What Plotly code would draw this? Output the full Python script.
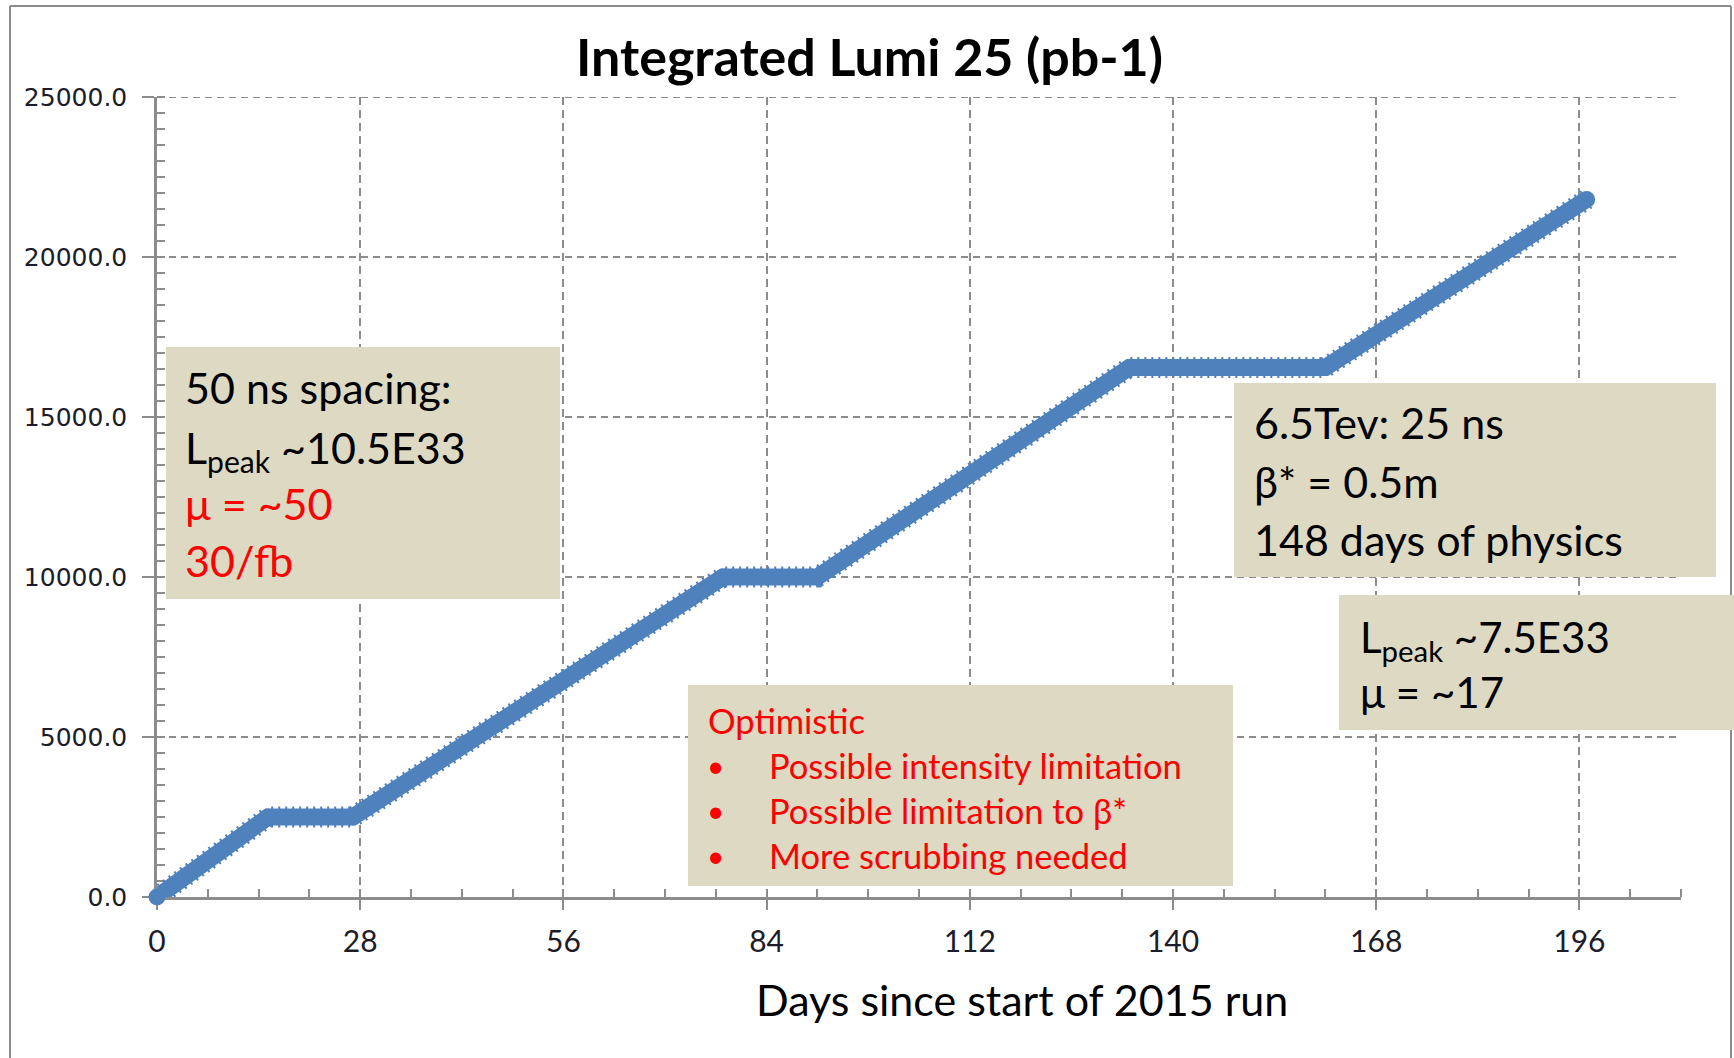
import plotly.graph_objects as go

# Cumulative integrated luminosity (pb^-1) at the break points of the 2015 run plan
days = [0, 15.3, 27, 78, 91, 134, 161, 197]
lumi_pb = [0, 2500, 2500, 10000, 10000, 16550, 16550, 21800]

x_tick_step = 28
y_tick_step = 5000
x_range = [0, 210]
y_range = [0, 25000]

title_text = "Integrated Lumi 25 (pb-1)"
x_title_text = "Days since start of 2015 run"

box_50ns_lines = ["50 ns spacing:", "L<sub>peak</sub> ~10.5E33", "μ = ~50", "30/fb"]
box_50ns_colors = ["black", "black", "red", "red"]
box_25ns_lines = ["6.5Tev: 25 ns", "β* = 0.5m", "148 days of physics"]
box_peak_lines = ["L<sub>peak</sub> ~7.5E33", "μ = ~17"]
caveat_head = "Optimistic"
caveat_items = ["Possible intensity limitation", "Possible limitation to β*", "More scrubbing needed"]

# ---- page geometry (pixels) ----
W, H = 1734, 1058
PL, PR, PT, PB = 157, 1681, 97, 897   # plot area edges


def px(x):
    return (x - PL) / (PR - PL)


def py(y):
    return (PB - y) / (PB - PT)


BLUE = "#4F81BD"
GRID = "#8c8c8c"
AXIS = "#8c8c8c"
BOX = "#DDD9C3"
TXT = "#1c1c2a"

fig = go.Figure()

# serrated edge of the thick series line
fig.add_trace(go.Scatter(
    x=days, y=lumi_pb, mode="lines",
    line=dict(color=BLUE, width=21, dash="2px,5px"),
    cliponaxis=False, hoverinfo="skip", showlegend=False,
))
# body of the series line
fig.add_trace(go.Scatter(
    x=days, y=lumi_pb, mode="lines+markers",
    line=dict(color=BLUE, width=17),
    marker=dict(color=BLUE, size=17, symbol="circle"),
    cliponaxis=False, showlegend=False,
))

shapes = []
# dashed gridline along the top edge of the plot
shapes.append(dict(type="line", xref="x", yref="y",
                   x0=x_range[0], x1=x_range[1], y0=y_range[1], y1=y_range[1],
                   line=dict(color=GRID, width=2, dash="7px,5px"), layer="below"))
# outer frame (left, top, right)
for x0, y0, x1, y1 in [(10, 6, 10, 1070), (10, 6, 1731, 6), (1731, 6, 1731, 1070)]:
    shapes.append(dict(type="line", xref="paper", yref="paper",
                       x0=px(x0), y0=py(y0), x1=px(x1), y1=py(y1),
                       line=dict(color=AXIS, width=2), layer="above"))

# text boxes
for x0, y0, x1, y1 in [(166, 347, 560, 599), (1234, 383, 1716, 577),
                       (1339, 595, 1740, 730), (688, 685, 1233, 886)]:
    shapes.append(dict(type="rect", xref="paper", yref="paper",
                       x0=px(x0), y0=py(y0), x1=px(x1), y1=py(y1),
                       fillcolor=BOX, line=dict(width=0), layer="above"))

annotations = []


def label(text, x, y, size, color="black", xanchor="left", bold=False):
    annotations.append(dict(
        text=f"<b>{text}</b>" if bold else text,
        xref="paper", yref="paper", x=px(x), y=py(y),
        xanchor=xanchor, yanchor="middle", showarrow=False,
        font=dict(family="Lato", size=size, color=color),
    ))


# title and x axis title
label(title_text, 869, 56, 52, xanchor="center", bold=True)
label(x_title_text, 1022, 999, 43, xanchor="center")

# 50 ns box
for text, color, y in zip(box_50ns_lines, box_50ns_colors, [387, 450, 503, 560]):
    label(text, 183, y, 43, color)

# 25 ns box
for text, y in zip(box_25ns_lines, [422, 481, 539]):
    label(text, 1252, y, 43)

# peak luminosity box
for text, y in zip(box_peak_lines, [640, 692]):
    label(text, 1358, y, 42)

# caveats box
label(caveat_head, 706, 720, 34.5, "red")
for text, y in zip(caveat_items, [765, 810, 855]):
    label("•", 705, y, 30, "red")
    label(text, 767, y, 34.5, "red")

fig.update_layout(
    width=W, height=H,
    margin=dict(l=PL, r=W - PR, t=PT, b=H - PB, pad=0, autoexpand=False),
    paper_bgcolor="white", plot_bgcolor="white",
    shapes=shapes, annotations=annotations,
    showlegend=False,
)

fig.update_xaxes(
    range=x_range, tick0=0, dtick=x_tick_step,
    showgrid=True, gridcolor=GRID, gridwidth=2, griddash="8px,5px",
    showline=True, linecolor=AXIS, linewidth=2.5,
    ticks="outside", ticklen=10, tickwidth=2, tickcolor=AXIS,
    minor=dict(dtick=7, tick0=0, ticks="inside", ticklen=8, tickwidth=1.5,
               tickcolor=AXIS, showgrid=False),
    tickfont=dict(family="Lato", size=30, color=TXT),
    ticklabelstandoff=6,
    zeroline=False, layer="below traces", automargin=False,
)
fig.update_yaxes(
    range=y_range, tick0=0, dtick=y_tick_step, tickformat=".1f",
    showgrid=True, gridcolor=GRID, gridwidth=2, griddash="7px,5px",
    showline=True, linecolor=AXIS, linewidth=2.5,
    ticks="outside", ticklen=12, tickwidth=2, tickcolor=AXIS,
    minor=dict(dtick=500, tick0=0, ticks="inside", ticklen=8, tickwidth=1.5,
               tickcolor=AXIS, showgrid=False),
    tickfont=dict(family="DejaVu Sans", size=25, color=TXT),
    ticklabelstandoff=10,
    zeroline=False, layer="below traces", automargin=False,
)

fig.write_html("out.html")
